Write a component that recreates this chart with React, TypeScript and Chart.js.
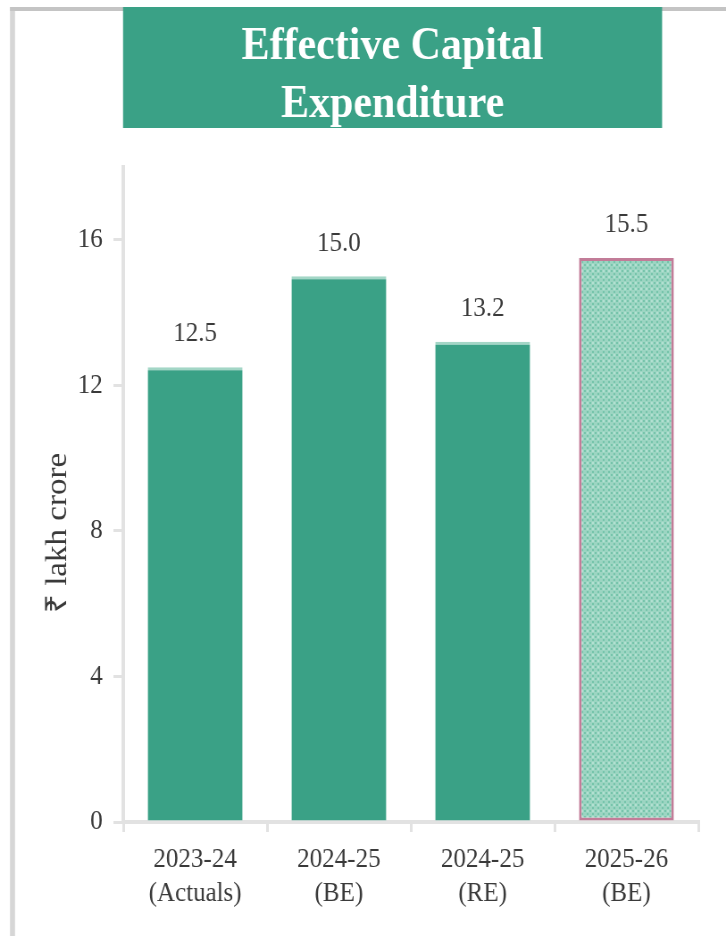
import { useEffect, useRef } from 'react';
import { Chart, registerables } from 'chart.js';

Chart.register(...registerables);

// ---- data ----
const categories: string[][] = [
  ['2023-24', '(Actuals)'],
  ['2024-25', '(BE)'],
  ['2024-25', '(RE)'],
  ['2025-26', '(BE)'],
];
const values: number[] = [12.5, 15.0, 13.2, 15.5];
const titleLines: string[] = ['Effective Capital', 'Expenditure'];
const yAxisTitle = '₹ lakh crore';
const yMax = 18;
const yStep = 4;

// ---- geometry / style ----
const VIEW_W = 726;
const VIEW_H = 936;
const SX = 1.12; // canvas is drawn wider and shown horizontally condensed
const CANVAS_W = Math.round(VIEW_W * SX);
const FONT = '"Liberation Serif", "Times New Roman", serif';
const GREEN = '#3aa186';
const TEXT = '#3a3a3a';
const AXIS = '#e2e2e2';

function makeCheckPattern(ctx: CanvasRenderingContext2D): CanvasPattern | string {
  const t = document.createElement('canvas');
  t.width = 6;
  t.height = 6;
  const g = t.getContext('2d');
  if (!g) return '#95d2bf';
  g.fillStyle = '#9cd5c2';
  g.fillRect(0, 0, 6, 6);
  g.fillStyle = '#76c4ab';
  g.fillRect(0, 0, 2, 2);
  g.fillRect(3, 3, 2, 2);
  g.fillStyle = '#b3e1d2';
  g.fillRect(3, 0, 2, 2);
  return ctx.createPattern(t, 'repeat') || '#95d2bf';
}

const decorPlugin = {
  id: 'decor',
  beforeDraw(chart: Chart) {
    const ctx = chart.ctx;
    ctx.save();
    // frame
    ctx.fillStyle = '#d6d6d6';
    ctx.fillRect(10 * SX, 7, 5 * SX, VIEW_H);
    ctx.fillStyle = '#c4c4c4';
    ctx.fillRect(10 * SX, 7, (VIEW_W - 10) * SX, 4);
    // title banner
    ctx.fillStyle = GREEN;
    ctx.fillRect(123 * SX, 7, (662 - 123) * SX, 121);
    ctx.fillStyle = '#ffffff';
    ctx.font = `bold 47px ${FONT}`;
    ctx.textAlign = 'center';
    ctx.textBaseline = 'alphabetic';
    ctx.fillText(titleLines[0], 392.5 * SX, 59);
    ctx.fillText(titleLines[1], 392.5 * SX, 117);
    // y-axis title
    ctx.translate(58 * SX, 533);
    ctx.rotate(-Math.PI / 2);
    ctx.fillStyle = TEXT;
    ctx.font = `33px ${FONT}`;
    ctx.textBaseline = 'middle';
    ctx.fillText(yAxisTitle, 0, 0);
    ctx.restore();
  },
  afterDatasetsDraw(chart: Chart) {
    const ctx = chart.ctx;
    const meta = chart.getDatasetMeta(0);
    ctx.save();
    ctx.fillStyle = TEXT;
    ctx.font = `28px ${FONT}`;
    ctx.textAlign = 'center';
    ctx.textBaseline = 'middle';
    meta.data.forEach((bar: any, i: number) => {
      ctx.fillText(values[i].toFixed(1), bar.x, bar.y - 33);
    });
    ctx.restore();
  },
};

export default function App() {
  const ref = useRef<HTMLCanvasElement | null>(null);

  useEffect(() => {
    const canvas = ref.current;
    if (!canvas) return;
    const ctx = canvas.getContext('2d');
    if (!ctx) return;
    const pattern = makeCheckPattern(ctx);
    const last = values.length - 1;

    const chart = new Chart(canvas, {
      type: 'bar',
      data: {
        labels: categories,
        datasets: [
          {
            data: values,
            backgroundColor: values.map((_, i) => (i === last ? pattern : GREEN)),
            borderColor: values.map((_, i) => (i === last ? '#c27c98' : '#a3d6c6')),
            borderWidth: values.map((_, i) =>
              i === last ? 3 : { top: 3, right: 0, bottom: 0, left: 0 }
            ) as any,
            borderSkipped: ((c: any) => (c.dataIndex === last ? false : 'start')) as any,
            barPercentage: 0.66,
            categoryPercentage: 1,
          },
        ],
      },
      plugins: [decorPlugin],
      options: {
        responsive: false,
        animation: false,
        devicePixelRatio: 1,
        layout: { padding: { top: 167, right: CANVAS_W - 782, left: 0, bottom: 0 } },
        plugins: {
          legend: { display: false },
          title: { display: false },
          tooltip: { enabled: false },
        },
        scales: {
          x: {
            grid: {
              display: true,
              drawOnChartArea: false,
              drawTicks: true,
              tickLength: 10,
              color: AXIS,
              lineWidth: 3,
              offset: true,
            },
            border: { display: true, color: AXIS, width: 4 },
            ticks: {
              color: TEXT,
              padding: 11,
              font: { family: FONT, size: 28, lineHeight: 1.2 },
              maxRotation: 0,
              autoSkip: false,
            },
            afterFit: (scale: any) => {
              scale.height = VIEW_H - 822;
            },
          },
          y: {
            min: 0,
            max: yMax,
            grid: {
              display: true,
              drawOnChartArea: false,
              drawTicks: true,
              tickLength: 11,
              color: AXIS,
              lineWidth: 3,
            },
            border: { display: true, color: AXIS, width: 4 },
            ticks: {
              stepSize: yStep,
              includeBounds: false,
              color: TEXT,
              padding: 12,
              font: { family: FONT, size: 28 },
            },
            afterFit: (scale: any) => {
              scale.width = 138;
            },
          },
        },
      },
    });
    return () => chart.destroy();
  }, []);

  return (
    <div style={{ position: 'absolute', left: 0, top: 0, width: VIEW_W, height: VIEW_H, background: '#fff' }}>
      <canvas
        ref={ref}
        width={CANVAS_W}
        height={VIEW_H}
        style={{ width: `${VIEW_W}px`, height: `${VIEW_H}px`, display: 'block' }}
      />
    </div>
  );
}
